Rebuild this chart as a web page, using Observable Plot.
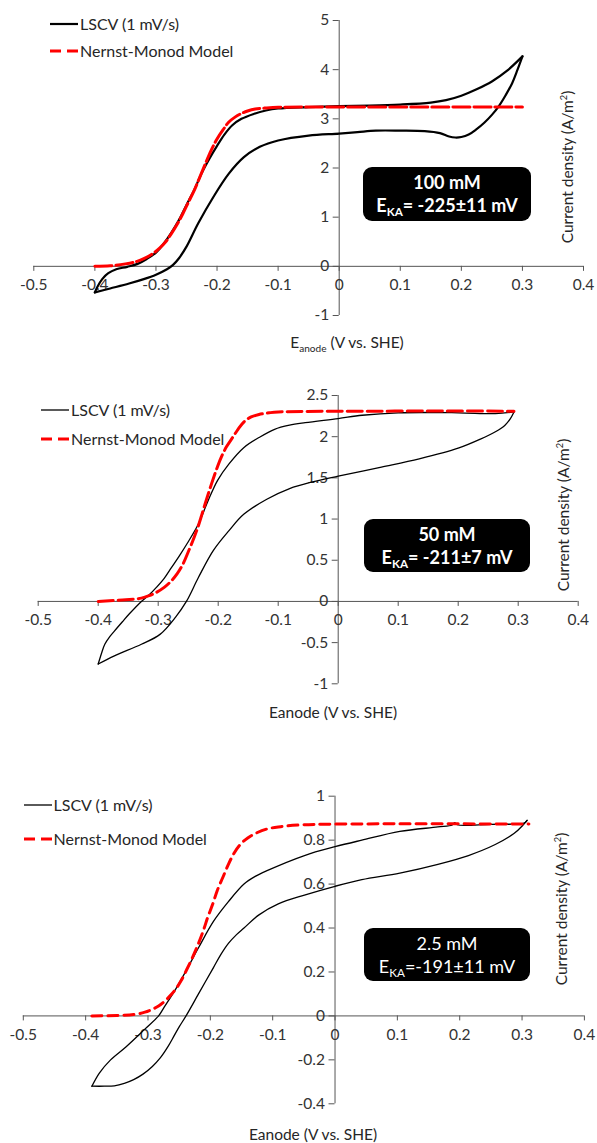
<!DOCTYPE html>
<html>
<head>
<meta charset="utf-8">
<script src="https://cdn.jsdelivr.net/npm/d3@7"></script>
<script src="https://cdn.jsdelivr.net/npm/@observablehq/plot@0.6"></script>
<style>
  html, body { margin: 0; padding: 0; background: #fff; }
  #page { position: relative; width: 597px; height: 1143px; overflow: hidden; font-family: Lato, "Open Sans", sans-serif; color: #262626; }
  .panel { position: absolute; left: 0; }
  .legend { position: absolute; font-size: 16px; line-height: 18px; white-space: nowrap; display: flex; align-items: center; }
  .legend svg { display: block; margin-right: 2px; }
  .xtitle { position: absolute; font-size: 15.5px; white-space: nowrap; transform: translate(-50%, -50%); }
  .ytitle { position: absolute; font-size: 15.5px; white-space: nowrap; transform: translate(-50%, -50%) rotate(-90deg); }
  .note { position: absolute; background: #000; color: #fff; border-radius: 9px; display: flex; flex-direction: column; align-items: center; justify-content: center; font-size: 18px; line-height: 23px; }
  .note.bold { font-weight: 700; }
  sub { font-size: 65%; vertical-align: -0.35em; line-height: 0; }
  sup { font-size: 60%; vertical-align: 0.6em; line-height: 0; }
</style>
</head>
<body>
<div id="page"></div>
<script>
// ---- x axis (shared) ----
const xTicks = [-0.5, -0.4, -0.3, -0.2, -0.1, 0, 0.1, 0.2, 0.3, 0.4];

// ---- 100 mM acetate ----
const yTicks100 = [-1, 0, 1, 2, 3, 4, 5];
const lscv100Fwd = [
  [-0.400, -0.53], [-0.396, -0.42], [-0.388, -0.26], [-0.378, -0.14], [-0.365, -0.06],
  [-0.347, -0.01], [-0.330, 0.05], [-0.315, 0.15], [-0.300, 0.28], [-0.288, 0.45],
  [-0.275, 0.68], [-0.262, 0.95], [-0.250, 1.25], [-0.2375, 1.55], [-0.225, 1.90],
  [-0.212, 2.20], [-0.200, 2.45], [-0.188, 2.68], [-0.175, 2.87], [-0.160, 3.00],
  [-0.140, 3.10], [-0.120, 3.17], [-0.100, 3.21], [-0.050, 3.24], [0.000, 3.26],
  [0.050, 3.27], [0.100, 3.29], [0.150, 3.33], [0.175, 3.38], [0.200, 3.47],
  [0.225, 3.60], [0.250, 3.76], [0.275, 3.98], [0.300, 4.27]
];
const lscv100Rev = [
  [0.300, 4.27], [0.292, 4.00], [0.283, 3.72], [0.272, 3.47], [0.262, 3.27],
  [0.250, 3.08], [0.2375, 2.92], [0.225, 2.79], [0.212, 2.68], [0.200, 2.63],
  [0.190, 2.62], [0.180, 2.64], [0.165, 2.71], [0.140, 2.75], [0.100, 2.76],
  [0.060, 2.76], [0.030, 2.73], [0.000, 2.70], [-0.050, 2.66], [-0.100, 2.56],
  [-0.130, 2.43], [-0.156, 2.22], [-0.181, 1.88], [-0.206, 1.41], [-0.231, 0.87],
  [-0.250, 0.40], [-0.262, 0.17], [-0.272, 0.03], [-0.282, -0.06], [-0.300, -0.17],
  [-0.320, -0.26], [-0.344, -0.35], [-0.375, -0.45], [-0.400, -0.53]
];
const model100 = [
  [-0.400, 0.00], [-0.375, 0.01], [-0.350, 0.05], [-0.331, 0.10], [-0.319, 0.16],
  [-0.306, 0.25], [-0.294, 0.37], [-0.284, 0.50], [-0.275, 0.66], [-0.265, 0.86],
  [-0.256, 1.07], [-0.247, 1.30], [-0.2375, 1.54], [-0.228, 1.82], [-0.219, 2.09],
  [-0.210, 2.35], [-0.200, 2.59], [-0.190, 2.78], [-0.181, 2.93], [-0.170, 3.04],
  [-0.160, 3.11], [-0.150, 3.16], [-0.1375, 3.20], [-0.120, 3.22], [-0.100, 3.235],
  [-0.050, 3.24], [0.300, 3.24]
];

// ---- 50 mM acetate ----
const yTicks50 = [-1, -0.5, 0, 0.5, 1, 1.5, 2, 2.5];
const lscv50Fwd = [
  [-0.400, -0.76], [-0.394, -0.62], [-0.389, -0.52], [-0.381, -0.43], [-0.373, -0.36],
  [-0.360, -0.25], [-0.348, -0.15], [-0.328, 0.00], [-0.315, 0.08], [-0.303, 0.17],
  [-0.290, 0.28], [-0.278, 0.41], [-0.265, 0.55], [-0.252, 0.70], [-0.233, 0.94],
  [-0.217, 1.22], [-0.201, 1.47], [-0.182, 1.67], [-0.157, 1.87], [-0.132, 1.99],
  [-0.106, 2.09], [-0.081, 2.14], [-0.055, 2.17], [0.000, 2.22], [0.040, 2.26],
  [0.100, 2.29], [0.200, 2.29], [0.262, 2.28], [0.293, 2.30]
];
const lscv50Rev = [
  [0.293, 2.30], [0.287, 2.22], [0.278, 2.14], [0.262, 2.06], [0.237, 1.97],
  [0.200, 1.86], [0.135, 1.73], [0.072, 1.63], [0.000, 1.52], [-0.043, 1.45],
  [-0.081, 1.37], [-0.119, 1.24], [-0.157, 1.06], [-0.182, 0.86], [-0.208, 0.62],
  [-0.233, 0.29], [-0.253, 0.00], [-0.271, -0.19], [-0.297, -0.40], [-0.328, -0.52],
  [-0.373, -0.66], [-0.400, -0.76]
];
const model50 = [
  [-0.400, 0.00], [-0.354, 0.02], [-0.328, 0.04], [-0.315, 0.07], [-0.303, 0.11],
  [-0.290, 0.17], [-0.278, 0.25], [-0.268, 0.34], [-0.259, 0.45], [-0.250, 0.60],
  [-0.240, 0.78], [-0.233, 0.92], [-0.227, 1.06], [-0.219, 1.25], [-0.211, 1.43],
  [-0.203, 1.60], [-0.195, 1.75], [-0.186, 1.88], [-0.176, 1.99], [-0.167, 2.09],
  [-0.157, 2.18], [-0.145, 2.24], [-0.132, 2.27], [-0.115, 2.29], [-0.100, 2.30],
  [0.293, 2.31]
];

// ---- 2.5 mM acetate ----
const yTicks2p5 = [-0.4, -0.2, 0, 0.2, 0.4, 0.6, 0.8, 1];
const lscv2p5Fwd = [
  [-0.390, -0.32], [-0.370, -0.32], [-0.354, -0.318], [-0.338, -0.307], [-0.323, -0.29],
  [-0.308, -0.265], [-0.293, -0.23], [-0.280, -0.19], [-0.268, -0.14], [-0.258, -0.09],
  [-0.250, -0.05], [-0.239, 0.00], [-0.219, 0.10], [-0.195, 0.22], [-0.183, 0.28],
  [-0.171, 0.33], [-0.158, 0.37], [-0.146, 0.40], [-0.122, 0.46], [-0.091, 0.51],
  [-0.049, 0.55], [0.000, 0.59], [0.043, 0.62], [0.104, 0.65], [0.165, 0.69],
  [0.214, 0.73], [0.257, 0.78], [0.287, 0.83], [0.302, 0.87], [0.308, 0.89]
];
const lscv2p5Rev = [
  [0.308, 0.89], [0.305, 0.88], [0.300, 0.875], [0.250, 0.872], [0.196, 0.870],
  [0.192, 0.880], [0.188, 0.869], [0.165, 0.86], [0.104, 0.84], [0.043, 0.80],
  [0.000, 0.77], [-0.049, 0.73], [-0.110, 0.66], [-0.128, 0.635], [-0.146, 0.60],
  [-0.171, 0.52], [-0.195, 0.43], [-0.219, 0.31], [-0.238, 0.21], [-0.256, 0.12],
  [-0.274, 0.04], [-0.283, 0.00], [-0.305, -0.06], [-0.335, -0.14], [-0.360, -0.20],
  [-0.378, -0.26], [-0.390, -0.32]
];
const model2p5 = [
  [-0.390, 0.00], [-0.350, 0.002], [-0.323, 0.006], [-0.305, 0.017], [-0.293, 0.03],
  [-0.283, 0.045], [-0.274, 0.065], [-0.265, 0.09], [-0.256, 0.12], [-0.247, 0.16],
  [-0.238, 0.21], [-0.228, 0.27], [-0.219, 0.33], [-0.211, 0.39], [-0.204, 0.45],
  [-0.196, 0.51], [-0.189, 0.57], [-0.180, 0.63], [-0.171, 0.69], [-0.162, 0.74],
  [-0.152, 0.78], [-0.140, 0.81], [-0.128, 0.83], [-0.110, 0.85], [-0.091, 0.86],
  [-0.049, 0.87], [0.311, 0.873]
];

// ---- labels ----
const seriesNames = ["LSCV (1 mV/s)", "Nernst-Monod Model"];
const concLabels = ["100 mM", "50 mM", "2.5 mM"];
const ekaLabels = ["= -225±11 mV", "= -211±7 mV", "=-191±11 mV"];

// ---- layout of the three stacked panels ----
const axisColor = "#555";
const panels = [
  { top: 0, height: 330, mt: 20, mb: 15, ml: 33.3, mr: 14, yTicks: yTicks100, fwd: lscv100Fwd, rev: lscv100Rev, model: model100,
    lw: 2.2, dash: "17,4", conc: concLabels[0], eka: ekaLabels[0], bold: true,
    legend: { x: 50, y1: 23.5, y2: 51 }, note: { x: 363, y: 167, w: 168, h: 54 },
    xtitle: { x: 347, y: 342, sub: true }, ytitle: { x: 567, y: 167 } },
  { top: 380, height: 320, mt: 15, mb: 16.7, ml: 37.7, mr: 19.3, yTicks: yTicks50, fwd: lscv50Fwd, rev: lscv50Rev, model: model50,
    lw: 1.3, dash: "15,5", conc: concLabels[1], eka: ekaLabels[1], bold: true,
    legend: { x: 41, y1: 410, y2: 438.5 }, note: { x: 364, y: 519, w: 166, h: 53 },
    xtitle: { x: 333, y: 712, sub: false }, ytitle: { x: 563, y: 515 } },
  { top: 780, height: 340, mt: 15.7, mb: 16.7, ml: 22.8, mr: 13.1, yTicks: yTicks2p5, fwd: lscv2p5Fwd, rev: lscv2p5Rev, model: model2p5,
    lw: 1.3, dash: "10,6", conc: concLabels[2], eka: ekaLabels[2], bold: false,
    legend: { x: 23.5, y1: 804.5, y2: 839 }, note: { x: 364, y: 928, w: 166, h: 53 },
    xtitle: { x: 313, y: 1134, sub: false }, ytitle: { x: 561, y: 909 } }
];

const page = document.getElementById("page");
const fmt = d => (d === 0 ? "0" : String(d));

for (const p of panels) {
  const yDomain = [d3.min(p.yTicks), d3.max(p.yTicks)];
  const lineOpts = { x: d => d[0], y: d => d[1], curve: "catmull-rom" };
  const chart = Plot.plot({
    width: 597,
    height: p.height,
    marginTop: p.mt,
    marginBottom: p.mb,
    marginLeft: p.ml,
    marginRight: p.mr,
    x: { domain: [-0.5, 0.4], axis: null },
    y: { domain: yDomain, axis: null },
    style: { fontFamily: "Lato, 'Open Sans', sans-serif", fontSize: "15.5px", color: "#333", background: "transparent", overflow: "visible" },
    marks: [
      // axes crossing at the origin
      Plot.ruleY([0], { x1: -0.5, x2: 0.4, stroke: axisColor, strokeWidth: 1 }),
      Plot.ruleX([0], { y1: yDomain[0], y2: yDomain[1], stroke: axisColor, strokeWidth: 1 }),
      Plot.ruleX(xTicks, { x: d => d, y1: 0, y2: 0, insetBottom: -5, stroke: axisColor }),
      Plot.ruleY(p.yTicks, { y: d => d, x1: 0, x2: 0, insetLeft: -6, stroke: axisColor }),
      Plot.text(xTicks, { x: d => d, y: 0, dy: 19, text: fmt, fill: "#333" }),
      Plot.text(p.yTicks, { x: 0, y: d => d, dx: -10, textAnchor: "end", text: fmt, fill: "#333" }),
      // measured voltammogram (forward and reverse sweeps)
      Plot.line(p.fwd, { ...lineOpts, stroke: "#000", strokeWidth: p.lw }),
      Plot.line(p.rev, { ...lineOpts, stroke: "#000", strokeWidth: p.lw }),
      // Nernst-Monod fit
      Plot.line(p.model, { ...lineOpts, stroke: "#ff0000", strokeWidth: 3, strokeDasharray: p.dash })
    ]
  });
  chart.classList.add("panel");
  chart.style.top = p.top + "px";
  page.appendChild(chart);

  // legend
  const items = [
    { y: p.legend.y1, stroke: "#000", w: p.lw, dash: null, label: seriesNames[0] },
    { y: p.legend.y2, stroke: "#ff0000", w: 3, dash: "11,6", label: seriesNames[1] }
  ];
  for (const it of items) {
    const el = document.createElement("div");
    el.className = "legend";
    el.style.left = p.legend.x + "px";
    el.style.top = (it.y - 9) + "px";
    el.innerHTML = `<svg width="28" height="18"><line x1="0" x2="28" y1="9" y2="9" stroke="${it.stroke}" stroke-width="${it.w}" ${it.dash ? `stroke-dasharray="${it.dash}"` : ""}/></svg><span>${it.label}</span>`;
    page.appendChild(el);
  }

  // annotation box
  const note = document.createElement("div");
  note.className = "note" + (p.bold ? " bold" : "");
  Object.assign(note.style, { left: p.note.x + "px", top: p.note.y + "px", width: p.note.w + "px", height: p.note.h + "px" });
  note.innerHTML = `<div>${p.conc}</div><div>E<sub>KA</sub>${p.eka}</div>`;
  page.appendChild(note);

  // axis titles
  const xt = document.createElement("div");
  xt.className = "xtitle";
  xt.style.left = p.xtitle.x + "px";
  xt.style.top = p.xtitle.y + "px";
  xt.innerHTML = p.xtitle.sub ? "E<sub>anode</sub> (V vs. SHE)" : "Eanode (V vs. SHE)";
  page.appendChild(xt);

  const yt = document.createElement("div");
  yt.className = "ytitle";
  yt.style.left = p.ytitle.x + "px";
  yt.style.top = p.ytitle.y + "px";
  yt.innerHTML = "Current density (A/m<sup>2</sup>)";
  page.appendChild(yt);
}
</script>
</body>
</html>
